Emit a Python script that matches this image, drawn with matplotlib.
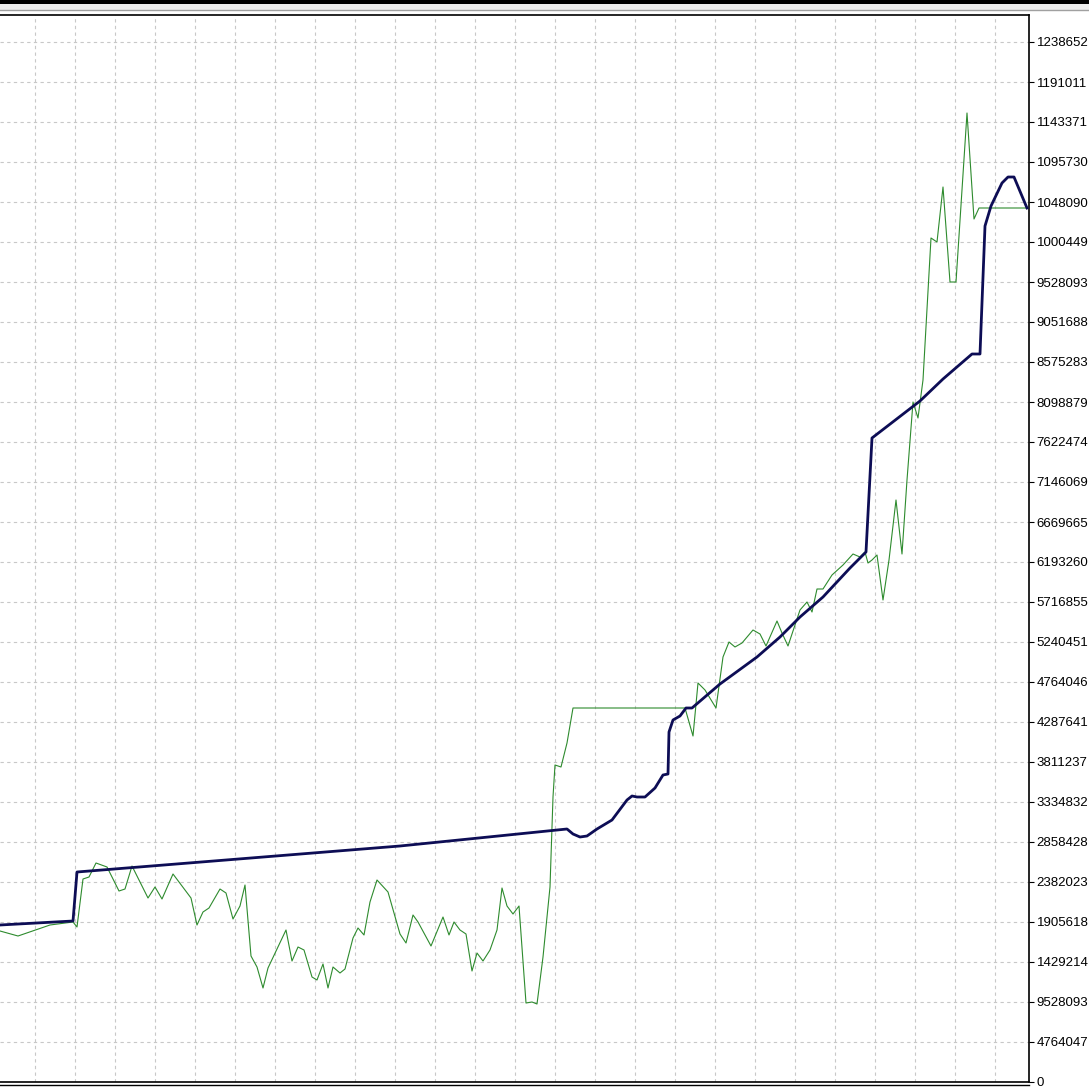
"""Strategy tester style balance / equity chart."""

import matplotlib

matplotlib.use("Agg")
import matplotlib.pyplot as plt
from matplotlib.lines import Line2D
from matplotlib.patches import Rectangle

# trade index and balance (blue) readings
balance_x = [0, 73, 77, 400, 567, 573, 580, 587, 597, 612, 627, 632, 637, 645, 655, 663,
             668, 669, 673, 680, 686, 692, 720, 757, 780, 800, 823, 850, 866, 872, 920,
             943, 972, 980, 985, 991, 1002, 1008, 1014, 1027]
balance = [186990, 191753, 250112, 281078, 301326, 295371, 291797, 292988, 301326,
           312045, 335865, 340629, 339438, 339438, 350157, 365640, 366831, 416854,
           431146, 435910, 445438, 445438, 474022, 506179, 529999, 553820, 577640,
           612179, 631235, 767011, 811078, 837280, 867055, 867055, 1019505, 1043325,
           1070718, 1077864, 1077864, 1040943]

# trade index and equity (green) readings
equity_x = [0, 18, 50, 73, 77, 83, 89, 96, 107, 119, 125, 132, 148, 155, 162, 173, 182,
            191, 197, 203, 209, 220, 226, 233, 240, 245, 251, 257, 263, 268, 286, 292,
            298, 304, 312, 317, 323, 328, 333, 340, 345, 353, 358, 364, 370, 377, 388,
            400, 406, 413, 418, 431, 443, 449, 454, 460, 466, 472, 477, 483, 490, 497,
            502, 507, 513, 519, 526, 532, 537, 543, 550, 553, 555, 561, 567, 573, 685,
            693, 698, 705, 716, 723, 729, 735, 742, 753, 760, 766, 777, 782, 788, 800,
            807, 812, 817, 823, 832, 843, 853, 860, 865, 868, 872, 877, 883, 889, 896,
            902, 907, 913, 918, 923, 931, 937, 943, 950, 956, 967, 974, 979, 1027]
equity = [179843, 173887, 186989, 190562, 184607, 241775, 244157, 260831, 256067,
          227483, 229865, 257258, 219146, 232247, 217955, 247730, 233438, 219146,
          186989, 202472, 207236, 229865, 225101, 194135, 209618, 234629, 150067,
          136966, 111955, 135775, 181034, 144112, 160786, 157213, 125056, 121483,
          140539, 111955, 136966, 129820, 134584, 171505, 183416, 175078, 214382,
          240584, 226292, 176269, 165550, 198899, 190562, 161977, 196517, 175078,
          190562, 181034, 176269, 132202, 153640, 144112, 157213, 181034, 231056,
          209618, 200090, 209618, 94090, 95281, 92899, 148876, 232247, 339438,
          377550, 375168, 403752, 445438, 445438, 412090, 475213, 466876, 445438,
          506179, 524044, 518089, 522853, 538337, 533572, 519280, 549056, 534763,
          519280, 562157, 571685, 559775, 587168, 587168, 603842, 615752, 628853,
          625280, 631235, 618134, 621707, 627662, 574067, 621707, 693168, 628853,
          716988, 809887, 790831, 836089, 1005212, 1000448, 1065954, 952808, 952808,
          1154089, 1027842, 1040943, 1040943]

# axis labels as printed by the tester (note the odd digit counts)
tick_step = 47640.46
tick_labels = ["0", "4764047", "9528093", "1429214", "1905618", "2382023", "2858428",
               "3334832", "3811237", "4287641", "4764046", "5240451", "5716855",
               "6193260", "6669665", "7146069", "7622474", "8098879", "8575283",
               "9051688", "9528093", "1000449", "1048090", "1095730", "1143371",
               "1191011", "1238652"]

W = H = 1089
fig = plt.figure(figsize=(W / 100, H / 100), dpi=100)
fig.patch.set_facecolor("white")

# window chrome at the top
fig.add_artist(Rectangle((0, 1 - 4.5 / H), 1, 4.5 / H, transform=fig.transFigure,
                         facecolor="black", edgecolor="none"))
fig.add_artist(Rectangle((0, 1 - 10 / H), 1, 5.5 / H, transform=fig.transFigure,
                         facecolor="#eeeeee", edgecolor="none"))
fig.add_artist(Line2D([0, 1], [1 - 10 / H, 1 - 10 / H], transform=fig.transFigure,
                      color="#a0a0a0", linewidth=1.0))

left, right, top, bottom = 0, 1029, 15, 1082
ax = fig.add_axes([left / W, (H - bottom) / H, (right - left) / W, (bottom - top) / H])

ax.plot(equity_x, equity, color="#2e8b2e", linewidth=0.8, zorder=3)
ax.plot(balance_x, balance, color="#0d0d55", linewidth=2.0, zorder=4,
        solid_joinstyle="round")

ax.set_xlim(0, 1029)
ax.set_ylim(0, tick_step * (bottom - top) / 40)

ax.set_xticks([35 + 40 * k for k in range(25)])
ax.tick_params(axis="x", length=0, labelbottom=False)
ax.yaxis.tick_right()
ax.set_yticks([tick_step * k for k in range(len(tick_labels))])
ax.set_yticklabels(tick_labels, fontfamily="Liberation Sans", fontsize=9.5)
ax.tick_params(axis="y", length=3.5, width=0.8, pad=2, colors="black")

ax.grid(True, color="#c8c8c8", linewidth=0.8, linestyle=(0, (3, 3)))
ax.set_axisbelow(True)

ax.spines["left"].set_visible(False)
for side in ("top", "right", "bottom"):
    ax.spines[side].set_color("black")
    ax.spines[side].set_linewidth(1.2)

# second line of the double bottom border
fig.add_artist(Line2D([0, right / W], [(H - 1085) / H, (H - 1085) / H],
                      transform=fig.transFigure, color="black", linewidth=1.0))

fig.savefig("out.png", dpi=100)
